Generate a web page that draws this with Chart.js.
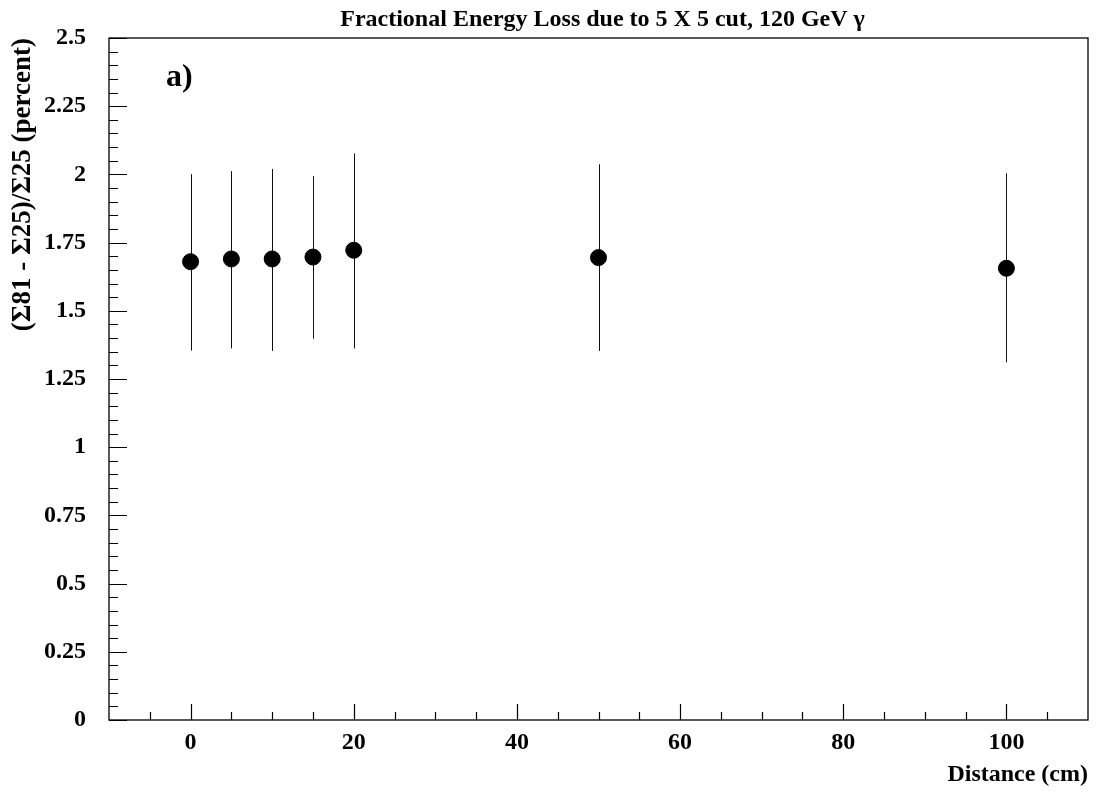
<!DOCTYPE html>
<html>
<head>
<meta charset="utf-8">
<script src="https://cdn.jsdelivr.net/npm/chart.js@4/dist/chart.umd.min.js"></script>
<style>
  html, body { margin: 0; padding: 0; background: #fff; }
  #wrap { width: 1097px; height: 793px; }
</style>
</head>
<body>
<div id="wrap"><canvas id="loss-chart"></canvas></div>
<script>
// Distance (cm) and fractional energy loss (percent)
let distances = [0, 5, 10, 15, 20, 50, 100];
let lossValues = [1.68, 1.69, 1.69, 1.697, 1.722, 1.695, 1.656];
let errLow = [1.354, 1.362, 1.353, 1.398, 1.362, 1.353, 1.311];
let errHigh = [2.001, 2.012, 2.020, 1.994, 2.077, 2.037, 2.004];

let xMajorTicks = [0, 20, 40, 60, 80, 100];
let xMinorTicks = [-5, 5, 10, 15, 25, 30, 35, 45, 50, 55, 65, 70, 75, 85, 90, 95, 105];
let yMajorTicks = [0, 0.25, 0.5, 0.75, 1, 1.25, 1.5, 1.75, 2, 2.25, 2.5];
let yMinorStep = 0.05;

let chartTitle = "Fractional Energy Loss due to 5 X 5 cut, 120 GeV \u03b3";
let panelLabel = "a)";

const serif = "'Liberation Serif', 'Times New Roman', serif";

// draws frame, inside ticks, error bars, title and panel label
const rootStylePlugin = {
    id: "rootStyle",
    beforeDatasetsDraw(chart) {
        const ctx = chart.ctx;
        const xs = chart.scales.x;
        const ys = chart.scales.y;
        ctx.save();
        ctx.strokeStyle = "#111";
        ctx.lineWidth = 1;
        for (let i = 0; i < distances.length; i++) {
            const px = Math.round(xs.getPixelForValue(distances[i])) + 0.5;
            ctx.beginPath();
            ctx.moveTo(px, ys.getPixelForValue(errLow[i]));
            ctx.lineTo(px, ys.getPixelForValue(errHigh[i]));
            ctx.stroke();
        }
        ctx.restore();
    },
    afterDraw(chart) {
        const ctx = chart.ctx;
        const area = chart.chartArea;
        const xs = chart.scales.x;
        const ys = chart.scales.y;
        ctx.save();
        ctx.strokeStyle = "#000";
        ctx.lineWidth = 1.3;
        ctx.strokeRect(area.left, area.top, area.right - area.left, area.bottom - area.top);

        ctx.lineWidth = 1.2;
        ctx.beginPath();
        xMajorTicks.forEach(v => {
            const px = Math.round(xs.getPixelForValue(v)) + 0.5;
            ctx.moveTo(px, area.bottom);
            ctx.lineTo(px, area.bottom - 16);
        });
        xMinorTicks.forEach(v => {
            const px = Math.round(xs.getPixelForValue(v)) + 0.5;
            ctx.moveTo(px, area.bottom);
            ctx.lineTo(px, area.bottom - 8);
        });
        const nMinor = Math.round(2.5 / yMinorStep);
        for (let k = 0; k <= nMinor; k++) {
            const v = k * yMinorStep;
            const py = Math.round(ys.getPixelForValue(v)) + 0.5;
            const isMajor = k % 5 === 0;
            ctx.moveTo(area.left, py);
            ctx.lineTo(area.left + (isMajor ? 18 : 9), py);
        }
        ctx.stroke();

        ctx.fillStyle = "#000";
        ctx.font = "bold 24px " + serif;
        ctx.textAlign = "center";
        ctx.textBaseline = "alphabetic";
        ctx.fillText(chartTitle, (area.left + area.right) / 2 + 4, 26);

        ctx.font = "bold 32px " + serif;
        ctx.textAlign = "left";
        ctx.fillText(panelLabel, xs.getPixelForValue(-3.0), ys.getPixelForValue(2.325));
        ctx.restore();
    },
};

let lossChart = new Chart(document.getElementById("loss-chart"), {
    type: "scatter",
    data: {
        datasets: [
            {
                label: "Energy loss",
                data: distances.map((d, i) => ({ x: d, y: lossValues[i] })),
                backgroundColor: "#000",
                borderColor: "#000",
                pointRadius: 8,
                pointHoverRadius: 8,
                showLine: false,
            },
        ],
    },
    options: {
        responsive: true,
        maintainAspectRatio: false,
        animation: false,
        layout: {
            padding: { top: 38, left: 0, right: 8, bottom: 0 },
        },
        scales: {
            x: {
                type: "linear",
                min: -10,
                max: 110,
                grid: { display: false, drawTicks: false },
                border: { display: false },
                afterBuildTicks: (scale) => {
                    scale.ticks = xMajorTicks.map(v => ({ value: v }));
                },
                afterFit: (scale) => {
                    scale.height = 73;
                },
                ticks: {
                    autoSkip: false,
                    maxRotation: 0,
                    padding: 8,
                    color: "#000",
                    font: { family: serif, size: 24, weight: "bold" },
                },
                title: {
                    display: true,
                    text: "Distance (cm)",
                    align: "end",
                    color: "#000",
                    padding: { top: 0, bottom: 4 },
                    font: { family: serif, size: 24, weight: "bold" },
                },
            },
            y: {
                type: "linear",
                min: 0,
                max: 2.5,
                grid: { display: false, drawTicks: false },
                border: { display: false },
                afterBuildTicks: (scale) => {
                    scale.ticks = yMajorTicks.map(v => ({ value: v }));
                },
                afterFit: (scale) => {
                    scale.width = 109;
                },
                ticks: {
                    autoSkip: false,
                    padding: 23,
                    color: "#000",
                    font: { family: serif, size: 24, weight: "bold" },
                    callback: (v) => String(v),
                },
                title: {
                    display: true,
                    text: "(\u03a381 - \u03a325)/\u03a325 (percent)",
                    align: "end",
                    color: "#000",
                    padding: { top: 7, bottom: 0 },
                    font: { family: serif, size: 27, weight: "bold" },
                },
            },
        },
        plugins: {
            legend: { display: false },
            tooltip: { enabled: false },
            title: { display: false },
        },
    },
    plugins: [rootStylePlugin],
});
</script>
</body>
</html>
